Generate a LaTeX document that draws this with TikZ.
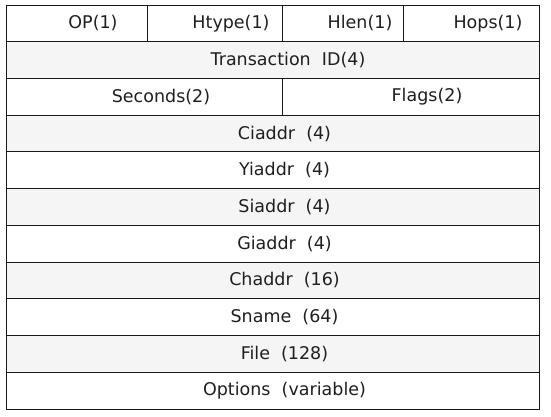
\documentclass[tikz,border=0pt]{standalone}
\usepackage{fontspec}
\setmainfont{DejaVu Sans}

\begin{document}
\begin{tikzpicture}[x=1pt,y=-1pt,
cell/.style={draw=black!90,line width=0.9pt},
grayrow/.style={cell,fill=black!4},
whiterow/.style={cell,fill=white},
field/.style={font=\fontsize{17.5}{20}\selectfont,text=black!88}]

\useasboundingbox (0,0) rectangle (551,416);

% first row: one byte each
\draw[whiterow] (6,5) rectangle (147,41.7);
\draw[whiterow] (147,5) rectangle (282,41.7);
\draw[whiterow] (282,5) rectangle (403,41.7);
\draw[whiterow] (403,5) rectangle (539,41.7);
\node[field] (op) at (93,23.4) {OP(1)};
\node[field] (htype) at (231,23.4) {Htype(1)};
\node[field] (hlen) at (360,23.4) {Hlen(1)};
\node[field] (hops) at (488,23.4) {Hops(1)};

\draw[grayrow] (6,41.7) rectangle (539,78.5);
\node[field] (xid) at (288,60.1) {Transaction\ \ ID(4)};

\draw[whiterow] (6,78.5) rectangle (282,115.2);
\draw[whiterow] (282,78.5) rectangle (539,115.2);
\node[field] (secs) at (161,96.9) {Seconds(2)};
\node[field] (flags) at (427,96.9) {Flags(2)};

% address rows
\draw[grayrow] (6,115.2) rectangle (539,151.9);
\node[field] (ciaddr) at (284.5,133.6) {Ciaddr\ \ (4)};
\draw[whiterow] (6,151.9) rectangle (539,188.6);
\node[field] (yiaddr) at (284.5,170.3) {Yiaddr\ \ (4)};
\draw[grayrow] (6,188.6) rectangle (539,225.4);
\node[field] (siaddr) at (284.5,207) {Siaddr\ \ (4)};
\draw[whiterow] (6,225.4) rectangle (539,262.1);
\node[field] (giaddr) at (284.5,243.7) {Giaddr\ \ (4)};
\draw[grayrow] (6,262.1) rectangle (539,298.8);
\node[field] (chaddr) at (284.5,280.4) {Chaddr\ \ (16)};

% long fields
\draw[whiterow] (6,298.8) rectangle (539,335.5);
\node[field] (sname) at (284.5,317.2) {Sname\ \ (64)};
\draw[grayrow] (6,335.5) rectangle (539,372.3);
\node[field] (file) at (284.5,353.9) {File\ \ (128)};
\draw[whiterow] (6,372.3) rectangle (539,409);
\node[field] (options) at (284.5,390.6) {Options\ \ (variable)};

\end{tikzpicture}
\end{document}
